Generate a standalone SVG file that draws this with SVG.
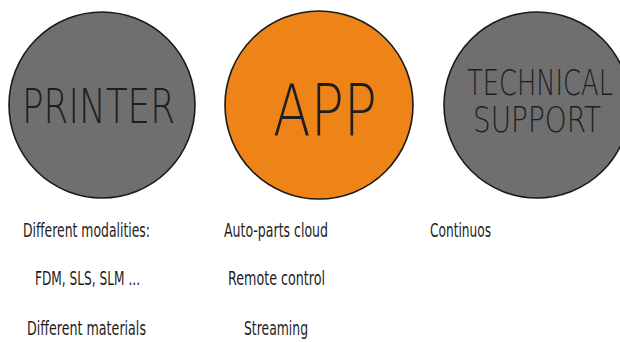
<svg xmlns="http://www.w3.org/2000/svg" width="620" height="342" viewBox="0 0 620 342">
  <style>
    .disc { stroke: #1a1a1a; stroke-width: 1.6; }
    .grey { fill: #6f6f6f; }
    .orange { fill: #ee8418; }
    .title { font-family: "DejaVu Sans", "Liberation Sans", sans-serif; font-weight: 200; fill: #1e1e1e; }
    .note { font-family: "DejaVu Sans", "Liberation Sans", sans-serif; font-stretch: condensed; font-size: 20px; fill: #1e1e1e; }
  </style>
  <rect width="620" height="342" fill="#ffffff"/>

  <g id="printer">
    <circle class="disc grey" cx="102" cy="105" r="93"/>
    <text class="title" x="22" y="123" font-size="48" textLength="153" lengthAdjust="spacingAndGlyphs">PRINTER</text>
  </g>

  <g id="app">
    <circle class="disc orange" cx="319" cy="105" r="94"/>
    <text class="title" x="273" y="135" font-size="71" textLength="104" lengthAdjust="spacingAndGlyphs">APP</text>
  </g>

  <g id="technical-support">
    <circle class="disc grey" cx="537" cy="105" r="93"/>
    <text class="title" x="467" y="95" font-size="36" textLength="146" lengthAdjust="spacingAndGlyphs">TECHNICAL</text>
    <text class="title" x="473" y="132" font-size="36" textLength="128" lengthAdjust="spacingAndGlyphs">SUPPORT</text>
  </g>

  <g id="printer-notes">
    <text class="note" x="23" y="237" textLength="127" lengthAdjust="spacingAndGlyphs">Different modalities:</text>
    <text class="note" x="35" y="285" textLength="105" lengthAdjust="spacingAndGlyphs">FDM, SLS, SLM ...</text>
    <text class="note" x="27" y="335" textLength="119" lengthAdjust="spacingAndGlyphs">Different materials</text>
  </g>

  <g id="app-notes">
    <text class="note" x="224" y="237" textLength="104" lengthAdjust="spacingAndGlyphs">Auto-parts cloud</text>
    <text class="note" x="228" y="285" textLength="97" lengthAdjust="spacingAndGlyphs">Remote control</text>
    <text class="note" x="244" y="335" textLength="64" lengthAdjust="spacingAndGlyphs">Streaming</text>
  </g>

  <g id="support-notes">
    <text class="note" x="430" y="237" textLength="61" lengthAdjust="spacingAndGlyphs">Continuos</text>
  </g>

  <g id="connectors"/>
</svg>
